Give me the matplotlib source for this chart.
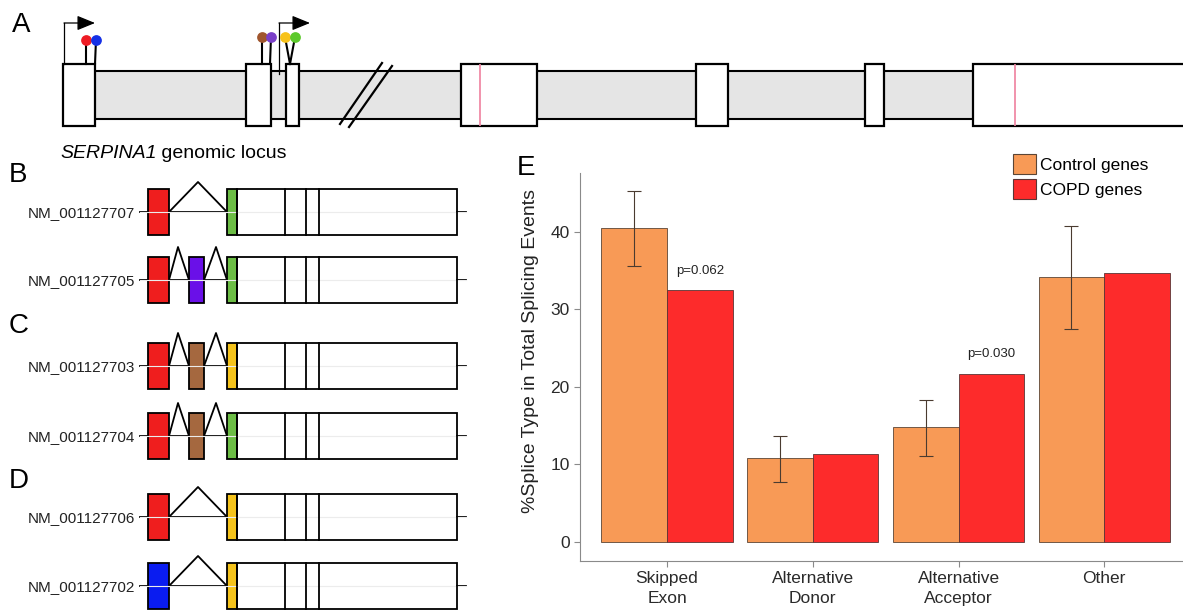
import numpy as np
import matplotlib
matplotlib.use("Agg")
import matplotlib.pyplot as plt
from matplotlib.patches import Rectangle, Patch

plt.rcParams["font.family"] = ["Liberation Sans", "DejaVu Sans"]

W, H = 1183, 611

# ---- panel E: splice type percentages ----
categories = ["Skipped\nExon", "Alternative\nDonor", "Alternative\nAcceptor", "Other"]
series_names = ["Control genes", "COPD genes"]
control_pct = [40.5, 10.8, 14.8, 34.2]
copd_pct = [32.5, 11.3, 21.7, 34.7]
control_low = [35.6, 7.7, 11.1, 27.5]
control_high = [45.3, 13.7, 18.3, 40.8]
p_labels = ["p=0.062", "", "p=0.030", ""]
yticks = [0, 10, 20, 30, 40]

# ---- panels B-D: transcripts ----
transcript_ids = ["NM_001127707", "NM_001127705", "NM_001127703",
                  "NM_001127704", "NM_001127706", "NM_001127702"]
first_exon = ["red", "red", "red", "red", "red", "blue"]
middle_exon = [None, "purple", "brown", "brown", None, None]
junction_exon = ["green", "green", "yellow", "green", "yellow", "yellow"]

# ---- panel A: genomic locus (schematic x positions) ----
exon_spans = [(63, 95), (246, 271), (286, 299), (461, 537),
              (696, 728), (865, 884), (973, 1200)]
variant_pos = [480, 1015]
snp_head_x = [86, 96, 262, 271, 285, 295]
snp_base_x = [86, 95, 262, 270, 290, 290]
snp_colors = ["#ee1c24", "#1530e6", "#a0562e", "#7a3fc8", "#f7c21a", "#5cc92c"]
tss_x = [64, 279]
tss_base = [64, 74]

exon_fill = {"red": "#ef1e1e", "blue": "#0a1cf0", "purple": "#6a10e8",
             "brown": "#a5683f", "green": "#6cbd45", "yellow": "#f5c31b"}

# layout
row_y = [212, 280, 366, 436, 517, 586]
half_h = 23

fig = plt.figure(figsize=(W / 100, H / 100), dpi=100)
ax = fig.add_axes([0, 0, 1, 1])
ax.set_xlim(0, W)
ax.set_ylim(H, 0)
ax.axis("off")

# panel letters
for letter, (lx, ly) in zip("ABCDE", [(12, 32), (9, 182), (9, 333), (9, 488), (517, 175)]):
    ax.text(lx, ly, letter, fontsize=20, ha="left", va="baseline")

# ---- panel A ----
band_top, band_bot = 71, 119
ex_top, ex_bot = 64, 126
ax.add_patch(Rectangle((95, band_top), 973 - 95, band_bot - band_top,
                       facecolor="#e5e5e5", edgecolor="none", zorder=1))
ax.plot([95, 973], [band_top, band_top], color="black", lw=1.5, zorder=2)
ax.plot([95, 973], [band_bot, band_bot], color="black", lw=1.5, zorder=2)
for x0, x1 in exon_spans:
    ax.add_patch(Rectangle((x0, ex_top), x1 - x0, ex_bot - ex_top,
                           facecolor="white", edgecolor="black", lw=1.6, zorder=3))
for vx in variant_pos:
    ax.plot([vx, vx], [ex_top + 1, ex_bot - 1], color="#f08aa6", lw=1.3, zorder=4)
# break marks
ax.plot([340, 382], [124, 63], color="black", lw=1.6, zorder=4)
ax.plot([349, 392], [127, 66], color="black", lw=1.6, zorder=4)
# variant lollipops
for hx, bx, c in zip(snp_head_x, snp_base_x, snp_colors):
    top = 40 if hx < 200 else 37
    ax.plot([hx, bx], [top, ex_top], color="black", lw=1.5, zorder=4)
    ax.scatter([hx], [top], s=60, color=c, zorder=5, linewidths=0)
# transcription start arrows
for tx, tb in zip(tss_x, tss_base):
    ax.plot([tx, tx], [tb, 23], color="black", lw=0.9, zorder=4)
    ax.annotate("", xy=(tx + 31, 23), xytext=(tx, 23),
                arrowprops=dict(arrowstyle="-|>,head_length=1.1,head_width=0.45",
                                color="black", lw=0.9, shrinkA=0, shrinkB=0), zorder=4)
t1 = ax.text(60, 158, "SERPINA1", fontsize=14, style="italic", va="baseline")
ax.annotate(" genomic locus", xy=(1, 0), xycoords=t1, fontsize=14, va="bottom")

# ---- panels B-D ----
def exon_box(x0, x1, y, color):
    ax.add_patch(Rectangle((x0, y - half_h), x1 - x0, 2 * half_h,
                           facecolor=color, edgecolor="black", lw=1.3, zorder=3))

for name, y, c1, cm, cj in zip(transcript_ids, row_y, first_exon, middle_exon, junction_exon):
    ax.plot([140, 466], [y, y], color="#ececec", lw=0.8, zorder=4)
    ax.plot([140, 148], [y, y], color="black", lw=1.3, zorder=2)
    ax.plot([457, 466], [y, y], color="black", lw=1.3, zorder=2)
    ax.text(135, y, name, fontsize=11, ha="right", va="center_baseline", color="#222222")
    exon_box(148, 169, y, exon_fill[c1])
    if cm is None:
        ax.plot([169, 227], [y, y], color="black", lw=1.3, zorder=2)
        ax.plot([169, 198, 227], [y, y - 30, y], color="black", lw=1.3, zorder=2)
    else:
        exon_box(189, 204, y, exon_fill[cm])
        ax.plot([169, 189], [y, y], color="black", lw=1.3, zorder=2)
        ax.plot([204, 227], [y, y], color="black", lw=1.3, zorder=2)
        ax.plot([169, 178, 189], [y, y - 33, y], color="black", lw=1.3, zorder=2)
        ax.plot([204, 216, 227], [y, y - 33, y], color="black", lw=1.3, zorder=2)
    exon_box(227, 237, y, exon_fill[cj])
    ax.add_patch(Rectangle((237, y - half_h), 457 - 237, 2 * half_h,
                           facecolor="none", edgecolor="black", lw=1.3, zorder=5))
    for vx in [285, 306, 319]:
        ax.plot([vx, vx], [y - half_h, y + half_h], color="black", lw=1.3, zorder=5)

# ---- panel E ----
axE = fig.add_axes([580 / W, (H - 561) / H, (W - 580) / W, (561 - 173) / H])
axE.patch.set_alpha(0)
ctrl_color, copd_color = "#f89a56", "#fd2b2b"
bw = 0.45
xpos = np.arange(len(categories))
axE.bar(xpos - bw / 2, control_pct, bw, color=ctrl_color, edgecolor="#5b4535", lw=0.6)
axE.bar(xpos + bw / 2, copd_pct, bw, color=copd_color, edgecolor="#5b3535", lw=0.6)
lo = np.array(control_pct) - np.array(control_low)
hi = np.array(control_high) - np.array(control_pct)
axE.errorbar(xpos - bw / 2, control_pct, yerr=[lo, hi], fmt="none",
             ecolor="#4a3b30", elinewidth=0.8, capsize=5, capthick=0.8)
for i, p in enumerate(p_labels):
    if p:
        axE.text(xpos[i] + bw / 2, copd_pct[i] + 2.5, p, fontsize=9.5,
                 ha="center", va="center", color="#222222")

axE.set_xlim(-0.597, 3.54)
axE.set_ylim(-2.45, 47.6)
axE.set_yticks(yticks)
axE.set_xticks(xpos)
axE.set_xticklabels(categories, linespacing=1.4)
for s in ["top", "right"]:
    axE.spines[s].set_visible(False)
for s in ["left", "bottom"]:
    axE.spines[s].set_color("#8a8a8a")
    axE.spines[s].set_linewidth(0.8)
axE.tick_params(axis="both", colors="#8a8a8a", labelcolor="#2a2a2a",
                labelsize=12.5, length=4, width=0.8)
axE.tick_params(axis="x", pad=3)
axE.set_ylabel("%Splice Type in Total Splicing Events", fontsize=14, color="#222222")
axE.yaxis.set_label_coords(-0.068, 0.54)

handles = [Patch(facecolor=ctrl_color, edgecolor="#5b4535", lw=0.8),
           Patch(facecolor=copd_color, edgecolor="#5b3535", lw=0.8)]
axE.legend(handles, series_names, loc="upper left",
           bbox_to_anchor=(1013 / W, 1 - 154 / H), bbox_transform=fig.transFigure,
           frameon=False, fontsize=12.5, handlelength=1.32, handleheight=1.38,
           handletextpad=0.25, labelspacing=0.3, borderpad=0, borderaxespad=0)

fig.savefig("out.png", dpi=100)
